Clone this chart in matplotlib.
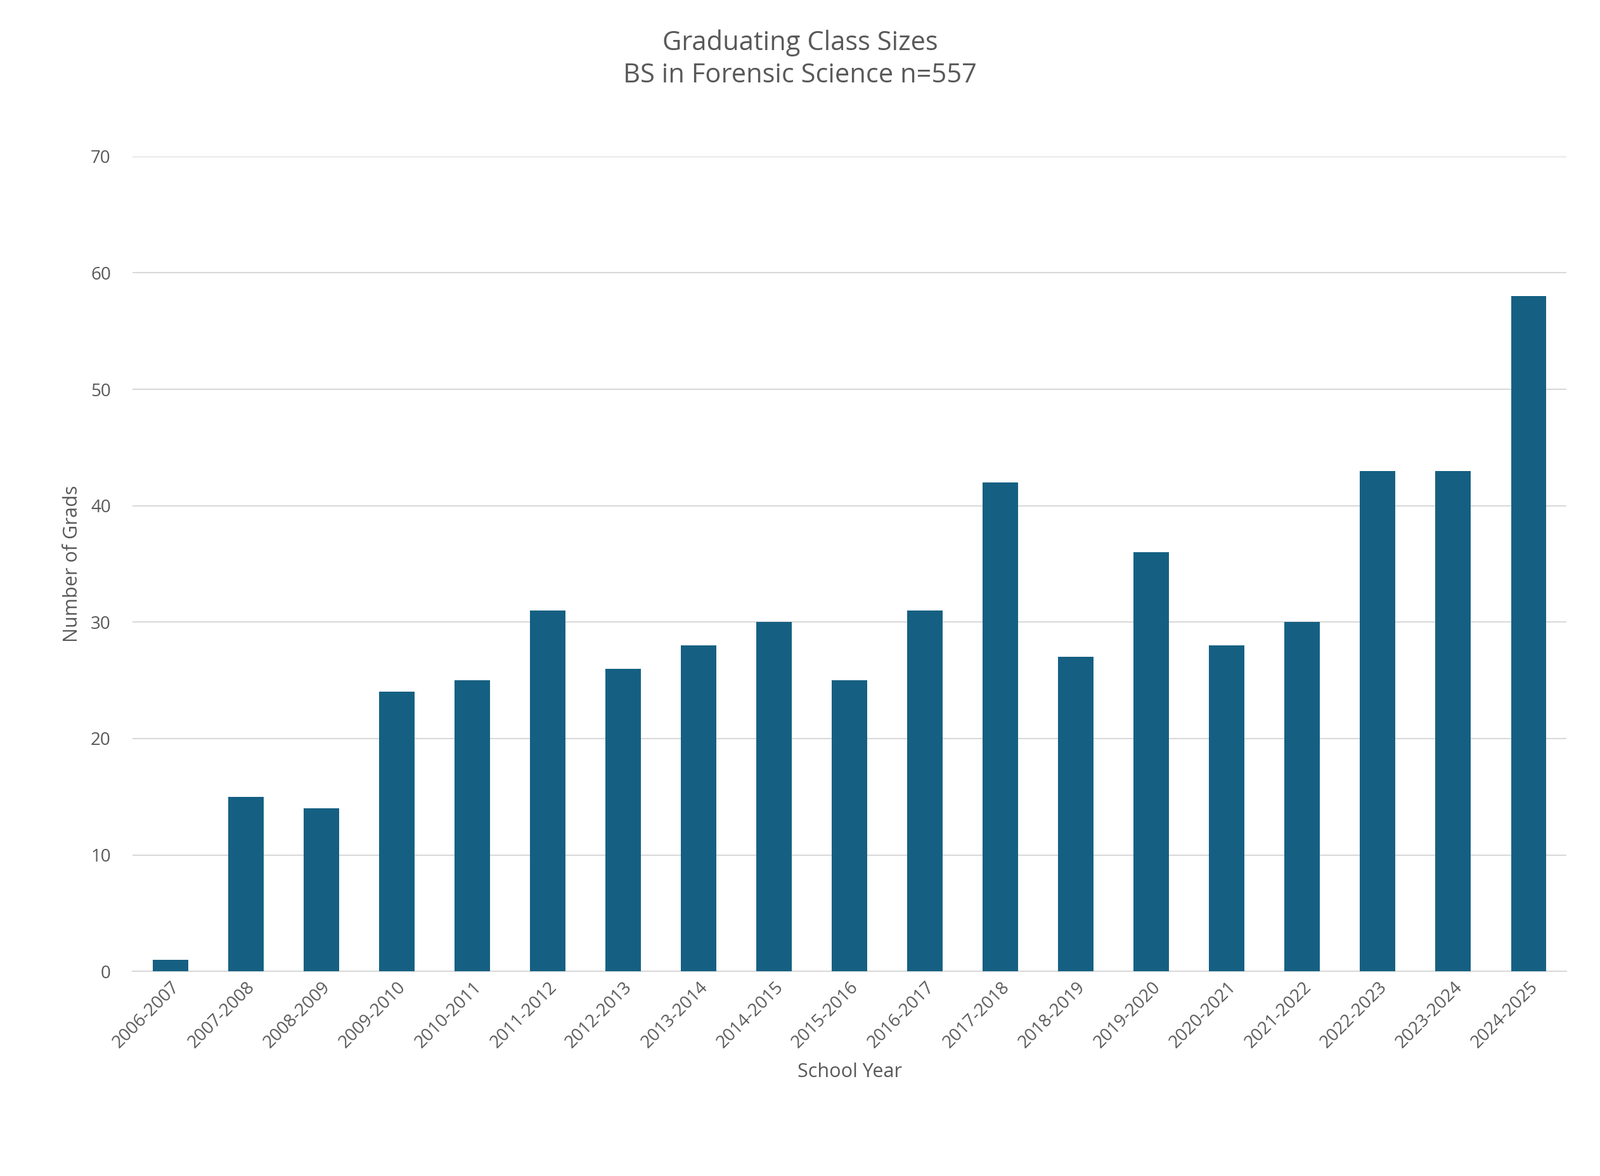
import matplotlib
matplotlib.use("Agg")
import matplotlib.pyplot as plt

years = ["2006-2007","2007-2008","2008-2009","2009-2010","2010-2011","2011-2012","2012-2013",
         "2013-2014","2014-2015","2015-2016","2016-2017","2017-2018","2018-2019","2019-2020",
         "2020-2021","2021-2022","2022-2023","2023-2024","2024-2025"]
grads = [1,15,14,24,25,31,26,28,30,25,31,42,27,36,28,30,43,43,58]
yticks = [0,10,20,30,40,50,60,70]

plt.rcParams["font.family"] = "Open Sans"
tc = "#595959"
fig = plt.figure(figsize=(25.24,18.55), dpi=100)
ax = fig.add_axes([0.083,0.174,0.896,0.693])
ax.bar(range(len(years)), grads, width=0.47, color="#156082", zorder=3)
ax.set_xlim(-0.5, len(years)-0.5)
ax.set_ylim(0,70)
ax.set_yticks(yticks)
ax.set_xticks(range(len(years)))
ax.set_xticklabels(years, rotation=45, ha="right", rotation_mode="anchor")
ax.tick_params(axis="both", colors=tc, labelsize=20, length=0)
ax.tick_params(axis="x", pad=8)
ax.tick_params(axis="y", pad=25)
ax.grid(axis="y", color="#d9d9d9", lw=1.5, zorder=0)
for s in ["top","right","left"]:
    ax.spines[s].set_visible(False)
ax.spines["bottom"].set_color("#d9d9d9")
ax.spines["bottom"].set_linewidth(1.5)
ax.set_xlabel("School Year", color=tc, fontsize=22, labelpad=12)
ax.set_ylabel("Number of Grads", color=tc, fontsize=22, labelpad=10)
fig.suptitle("Graduating Class Sizes\nBS in Forensic Science n=557", color=tc, fontsize=30, y=0.975, linespacing=1.3)
fig.savefig("out.png", dpi=100, facecolor="white")
